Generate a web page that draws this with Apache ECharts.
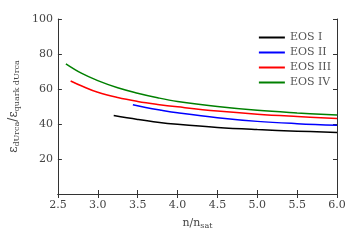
<!DOCTYPE html>
<html>
<head>
<meta charset="utf-8">
<script src="https://cdn.jsdelivr.net/npm/echarts@6/dist/echarts.min.js"></script>
<style>
  html, body { margin: 0; padding: 0; background: #fff; }
  #main { width: 360px; height: 240px; }
</style>
</head>
<body>
<div id="main"></div>
<script>
// values
let eos1X = [3.2, 3.5, 3.75, 4.0, 4.5, 5.0, 5.5, 6.0];
let eos1Y = [44.8, 42.6, 41.0, 39.8, 38.0, 36.8, 35.9, 35.2];

let eos2X = [3.44, 3.6, 3.8, 4.0, 4.5, 5.0, 5.5, 6.0];
let eos2Y = [51.0, 49.4, 47.8, 46.4, 43.6, 41.5, 40.2, 39.3];

let eos3X = [2.66, 2.8, 3.0, 3.25, 3.5, 3.75, 4.0, 4.5, 5.0, 5.5, 6.0];
let eos3Y = [64.6, 61.7, 58.1, 55.1, 52.9, 51.2, 49.8, 47.4, 45.6, 44.3, 43.2];

let eos4X = [2.6, 2.8, 3.0, 3.25, 3.5, 3.75, 4.0, 4.5, 5.0, 5.5, 6.0];
let eos4Y = [74.4, 68.9, 64.8, 60.7, 57.6, 55.0, 52.9, 50.0, 47.8, 46.3, 45.1];

let names = ['EOS I', 'EOS II', 'EOS III', 'EOS IV'];
let colors = ['#000000', '#0000ff', '#ff0000', '#008000'];

function pairs(xs, ys) {
  return xs.map((x, i) => [x, ys[i]]);
}

let font = 'DejaVu Serif';
let axisColor = '#333';
let subStyle = { fontSize: 8, verticalAlign: 'bottom', padding: [6, 0, 0, 0], fontFamily: font, color: '#444' };

let myChart = echarts.init(document.getElementById('main'));
let option = {
  animation: false,
  color: colors,
  textStyle: { fontFamily: font },
  grid: { left: 53, right: 23, top: 19, bottom: 46 },
  legend: {
    data: names,
    right: 24,
    top: 27,
    orient: 'vertical',
    itemGap: 4,
    itemWidth: 26,
    itemHeight: 12,
    icon: 'path://M0,5 L26,5 L26,7 L0,7 Z',
    textStyle: { fontFamily: font, fontSize: 11, color: '#555' }
  },
  xAxis: [
    {
      type: 'value',
      min: 2.5,
      max: 6.0,
      interval: 0.5,
      name: 'n/n{s|sat}',
      nameLocation: 'middle',
      nameGap: 22,
      nameTextStyle: {
        fontFamily: font, fontSize: 11, color: '#444',
        rich: { s: subStyle }
      },
      axisLine: { lineStyle: { color: axisColor, width: 1 } },
      axisTick: { inside: true, length: 4, lineStyle: { color: axisColor } },
      axisLabel: { fontFamily: font, fontSize: 11, color: '#444', margin: 6,
        formatter: v => v.toFixed(1) },
      splitLine: { show: false }
    },
    {
      type: 'value',
      position: 'top',
      min: 2.5,
      max: 6.0,
      interval: 0.5,
      axisLine: { show: true, lineStyle: { color: axisColor, width: 1 } },
      axisTick: { inside: true, length: 4, lineStyle: { color: axisColor } },
      axisLabel: { show: false },
      splitLine: { show: false }
    }
  ],
  yAxis: [
    {
      type: 'value',
      min: 0,
      max: 100,
      interval: 20,
      name: '\u03b5{s|dUrca}/\u03b5{s|quark dUrca}',
      nameLocation: 'middle',
      nameGap: 31,
      nameTextStyle: {
        fontFamily: font, fontSize: 12, color: '#444',
        rich: { s: subStyle }
      },
      axisLine: { show: true, lineStyle: { color: axisColor, width: 1 } },
      axisTick: { show: true, inside: true, length: 4, lineStyle: { color: axisColor } },
      axisLabel: { fontFamily: font, fontSize: 11, color: '#444', margin: 5,
        formatter: v => (v === 0 ? '' : String(v)) },
      splitLine: { show: false }
    },
    {
      type: 'value',
      position: 'right',
      min: 0,
      max: 100,
      interval: 20,
      axisLine: { show: true, lineStyle: { color: axisColor, width: 1 } },
      axisTick: { show: true, inside: true, length: 4, lineStyle: { color: axisColor } },
      axisLabel: { show: false },
      splitLine: { show: false }
    }
  ],
  series: [
    { name: names[0], type: 'line', smooth: 0.4, showSymbol: false, lineStyle: { width: 1.5 }, data: pairs(eos1X, eos1Y) },
    { name: names[1], type: 'line', smooth: 0.4, showSymbol: false, lineStyle: { width: 1.5 }, data: pairs(eos2X, eos2Y) },
    { name: names[2], type: 'line', smooth: 0.4, showSymbol: false, lineStyle: { width: 1.5 }, data: pairs(eos3X, eos3Y) },
    { name: names[3], type: 'line', smooth: 0.4, showSymbol: false, lineStyle: { width: 1.5 }, data: pairs(eos4X, eos4Y) }
  ]
};
myChart.setOption(option);
</script>
</body>
</html>
